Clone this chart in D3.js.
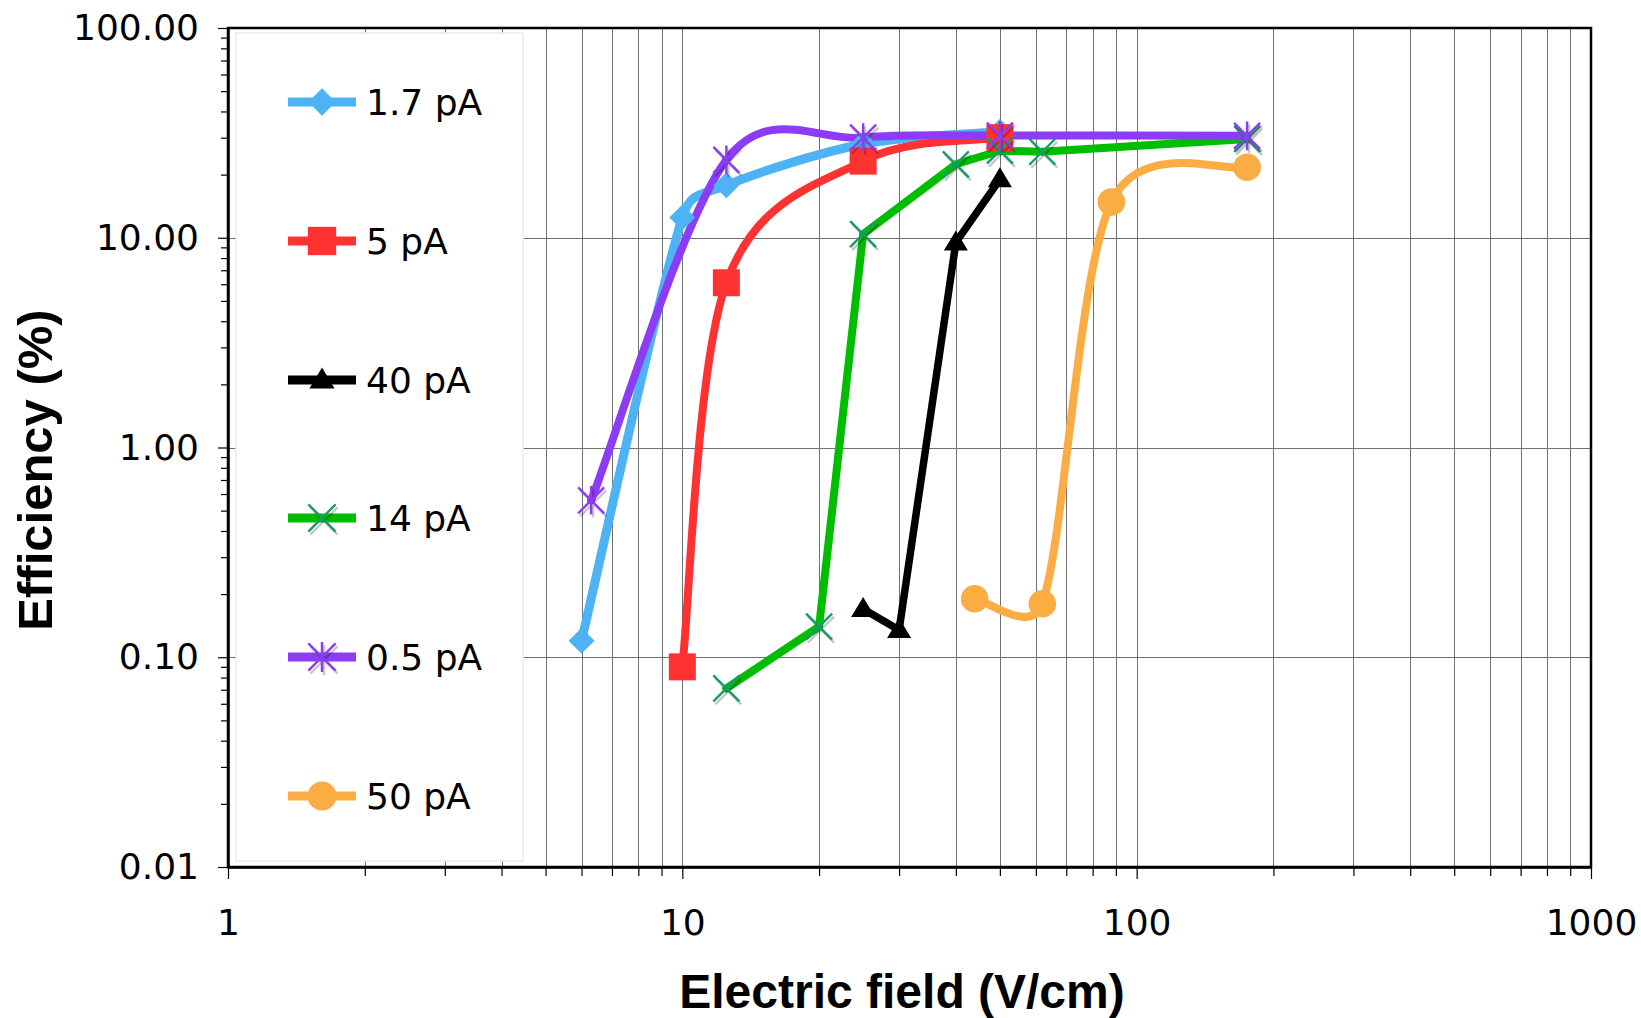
<!DOCTYPE html>
<html>
<head>
<meta charset="utf-8">
<script src="https://cdn.jsdelivr.net/npm/d3@7"></script>
<style>
  html, body { margin: 0; padding: 0; background: #fff; }
  svg { display: block; }
  .tick text { font-family: "DejaVu Sans", Verdana, sans-serif; }
</style>
</head>
<body>
<svg id="chart" width="1641" height="1018"></svg>
<script>
// ---- data: efficiency (%) vs electric field (V/cm) per beam current ----
const seriesNames = ["1.7 pA", "5 pA", "40 pA", "14 pA", "0.5 pA", "50 pA"];

const field_1p7 = [6, 10, 12.5, 25, 50];
const eff_1p7   = [0.12, 12.5, 17.8, 28, 32];

const field_5 = [10, 12.5, 25, 50];
const eff_5   = [0.09, 6.1, 23.2, 30];

const field_40 = [25, 30, 40, 50];
const eff_40   = [0.17, 0.135, 9.5, 19];

const field_14 = [12.5, 20, 25, 40, 50, 62, 175];
const eff_14   = [0.071, 0.14, 10.4, 22.4, 26, 25.7, 29.6];

const field_0p5 = [6.3, 12.5, 25, 50, 175];
const eff_0p5   = [0.56, 23.5, 30, 30.7, 30.6];

const field_50 = [44, 62, 88, 175];
const eff_50   = [0.19, 0.18, 14.8, 21.7];

const xTickValues = [1, 10, 100, 1000];
const yTickValues = [0.01, 0.1, 1, 10, 100];
const xTitle = "Electric field (V/cm)";
const yTitle = "Efficiency (%)";

// ---- layout & style ----
const W = 1641, H = 1018;
const plot = { left: 228, right: 1591, top: 28, bottom: 867 };

const styles = [
  { line: "#4db3f5", marker: "diamond",  mcolor: "#4db3f5", smooth: true,  width: 9 },
  { line: "#ff3232", marker: "square",   mcolor: "#ff3232", smooth: true,  width: 8 },
  { line: "#000000", marker: "triangle", mcolor: "#000000", smooth: false, width: 7.5 },
  { line: "#00bd00", marker: "x",        mcolor: "#179b6a", smooth: false, width: 8 },
  { line: "#8b3cf4", marker: "asterisk", mcolor: "#8b3cf4", smooth: true,  width: 8 },
  { line: "#f9ad43", marker: "circle",   mcolor: "#f9ad43", smooth: true,  width: 8 }
];

const fields = [field_1p7, field_5, field_40, field_14, field_0p5, field_50];
const effs   = [eff_1p7, eff_5, eff_40, eff_14, eff_0p5, eff_50];
const series = seriesNames.map((name, i) => ({
  name,
  style: styles[i],
  points: fields[i].map((f, j) => ({ f, e: effs[i][j] }))
}));

const x = d3.scaleLog().domain([1, 1000]).range([plot.left, plot.right]);
const y = d3.scaleLog().domain([0.01, 100]).range([plot.bottom, plot.top]);

const svg = d3.select("#chart");
svg.append("rect").attr("width", W).attr("height", H).attr("fill", "#fff");

// minor values for each decade
const minorX = [];
[1, 10, 100].forEach(d => { for (let k = 2; k <= 9; k++) minorX.push(k * d); });
const minorY = [];
[0.01, 0.1, 1, 10].forEach(d => { for (let k = 2; k <= 9; k++) minorY.push(+(k * d).toPrecision(3)); });

// ---- gridlines ----
const grid = svg.append("g").attr("shape-rendering", "crispEdges");
grid.selectAll("line.vx")
  .data(minorX.concat(xTickValues.slice(1, -1)))
  .join("line")
  .attr("x1", d => Math.round(x(d)) + 0.5).attr("x2", d => Math.round(x(d)) + 0.5)
  .attr("y1", plot.top).attr("y2", plot.bottom)
  .attr("stroke", "#707070").attr("stroke-width", 1);
grid.selectAll("line.hy")
  .data(yTickValues.slice(1, -1))
  .join("line")
  .attr("y1", d => Math.round(y(d)) + 0.5).attr("y2", d => Math.round(y(d)) + 0.5)
  .attr("x1", plot.left).attr("x2", plot.right)
  .attr("stroke", "#707070").attr("stroke-width", 1);

// ---- legend panel (covers the gridlines behind it) ----
const legendBox = { x: 236, y: 33, w: 287, h: 828 };
svg.append("rect")
  .attr("x", legendBox.x).attr("y", legendBox.y)
  .attr("width", legendBox.w).attr("height", legendBox.h)
  .attr("fill", "#fff").attr("stroke", "#ececec").attr("stroke-width", 1.5);

// ---- marker drawing ----
function drawMarker(g, type, color, s) {
  s = s || 1;
  if (type === "diamond") {
    const r = 13 * s;
    g.append("path").attr("d", `M0,${-r}L${r},0L0,${r}L${-r},0Z`).attr("fill", color);
  } else if (type === "square") {
    const h = 13.5 * s;
    g.append("rect").attr("x", -h).attr("y", -h).attr("width", 2 * h).attr("height", 2 * h).attr("fill", color);
  } else if (type === "triangle") {
    const w = 12 * s, t = 12 * s, b = 8 * s;
    g.append("path").attr("d", `M0,${-t}L${w},${b}L${-w},${b}Z`).attr("fill", color);
  } else if (type === "circle") {
    g.append("circle").attr("r", 13.8 * s).attr("fill", color);
  } else if (type === "x" || type === "asterisk") {
    const r = 13 * s;
    let d = `M${-r},${-r}L${r},${r}M${-r},${r}L${r},${-r}`;
    if (type === "asterisk") d += `M0,${-r * 1.1}L0,${r * 1.1}`;
    g.append("path").attr("d", d).attr("transform", "translate(2,3)")
      .attr("stroke", "#000").attr("stroke-opacity", 0.22).attr("stroke-width", 2.4).attr("fill", "none");
    g.append("path").attr("d", d).attr("stroke", color).attr("stroke-width", 2.4).attr("fill", "none");
  }
}

// Smoothed line: cubic Bezier through the scaled points, Catmull-Rom
// tangents with each control arm limited to half of its segment length.
function smoothPath(pts) {
  const p = d3.path();
  const n = pts.length;
  if (!n) return "";
  p.moveTo(pts[0][0], pts[0][1]);
  const arm = (i, j) => {
    // tangent/6 at point i, clipped by segment (i -> j) length
    const a = pts[Math.max(i - 1, 0)], b = pts[Math.min(i + 1, n - 1)];
    let dx = (b[0] - a[0]) / 6, dy = (b[1] - a[1]) / 6;
    const seg = Math.hypot(pts[j][0] - pts[i][0], pts[j][1] - pts[i][1]);
    const len = Math.hypot(dx, dy), lim = seg / 2;
    if (len > lim && len > 0) { dx *= lim / len; dy *= lim / len; }
    return [dx, dy];
  };
  for (let i = 0; i < n - 1; i++) {
    const a1 = arm(i, i + 1), a2 = arm(i + 1, i);
    p.bezierCurveTo(
      pts[i][0] + a1[0], pts[i][1] + a1[1],
      pts[i + 1][0] - a2[0], pts[i + 1][1] - a2[1],
      pts[i + 1][0], pts[i + 1][1]);
  }
  return p.toString();
}

const straight = d3.line().x(p => x(p.f)).y(p => y(p.e));

// ---- series lines ----
const linesG = svg.append("g");
series.forEach(s => {
  const d = s.style.smooth
    ? smoothPath(s.points.map(p => [x(p.f), y(p.e)]))
    : straight(s.points);
  linesG.append("path")
    .attr("d", d)
    .attr("fill", "none")
    .attr("stroke", s.style.line)
    .attr("stroke-width", s.style.width)
    .attr("stroke-linejoin", "round")
    .attr("stroke-linecap", "round");
});

// ---- series markers ----
const markersG = svg.append("g");
series.forEach(s => {
  s.points.forEach(p => {
    const g = markersG.append("g").attr("transform", `translate(${x(p.f)},${y(p.e)})`);
    drawMarker(g, s.style.marker, s.style.mcolor);
  });
});

// ---- plot frame ----
svg.append("rect")
  .attr("x", plot.left).attr("y", plot.top)
  .attr("width", plot.right - plot.left).attr("height", plot.bottom - plot.top)
  .attr("fill", "none").attr("stroke", "#000").attr("stroke-width", 2.5);

// ---- axes ----
const fontTick = 36;
svg.append("g").attr("transform", `translate(${plot.left},0)`)
  .call(d3.axisLeft(y).tickValues(yTickValues).tickFormat(d3.format(".2f")).tickSize(10).tickPadding(19).tickSizeOuter(0));
svg.append("g").attr("transform", `translate(${plot.left},0)`)
  .call(d3.axisLeft(y).tickValues(minorY).tickFormat("").tickSize(7).tickSizeOuter(0))
  .call(g => g.select(".domain").remove());

svg.append("g").attr("transform", `translate(0,${plot.bottom})`)
  .call(d3.axisBottom(x).tickValues(xTickValues).tickFormat(d3.format("d")).tickSize(12).tickPadding(30).tickSizeOuter(0));
svg.append("g").attr("transform", `translate(0,${plot.bottom})`)
  .call(d3.axisBottom(x).tickValues(minorX).tickFormat("").tickSize(9).tickSizeOuter(0))
  .call(g => g.select(".domain").remove());

svg.selectAll(".domain").attr("stroke", "#000").attr("stroke-width", 2.5);
svg.selectAll(".tick line").attr("stroke", "#000").attr("stroke-width", 1.2);
svg.selectAll(".tick text").attr("font-size", fontTick).attr("fill", "#000");

// ---- axis titles ----
svg.append("text")
  .attr("x", 902).attr("y", 1008)
  .attr("text-anchor", "middle")
  .attr("font-family", "'Liberation Sans', Arial, sans-serif")
  .attr("font-weight", "bold").attr("font-size", 48)
  .text(xTitle);
svg.append("text")
  .attr("transform", "translate(52,470) rotate(-90)")
  .attr("text-anchor", "middle")
  .attr("font-family", "'Liberation Sans', Arial, sans-serif")
  .attr("font-weight", "bold").attr("font-size", 49)
  .text(yTitle);

// ---- legend entries ----
const legendRows = [102, 241, 380, 518, 657, 796];
const legendG = svg.append("g");
series.forEach((s, i) => {
  const row = legendG.append("g").attr("transform", `translate(0,${legendRows[i]})`);
  row.append("line").attr("x1", 288).attr("x2", 356).attr("y1", 0).attr("y2", 0)
    .attr("stroke", s.style.line).attr("stroke-width", 9);
  const mg = row.append("g").attr("transform", "translate(322,0)");
  drawMarker(mg, s.style.marker, s.style.mcolor, 1.05);
  row.append("text").attr("x", 366).attr("y", 0).attr("dy", "0.36em")
    .attr("font-family", "'DejaVu Sans', Verdana, sans-serif")
    .attr("font-size", fontTick).attr("fill", "#000")
    .text(s.name);
});
</script>
</body>
</html>
